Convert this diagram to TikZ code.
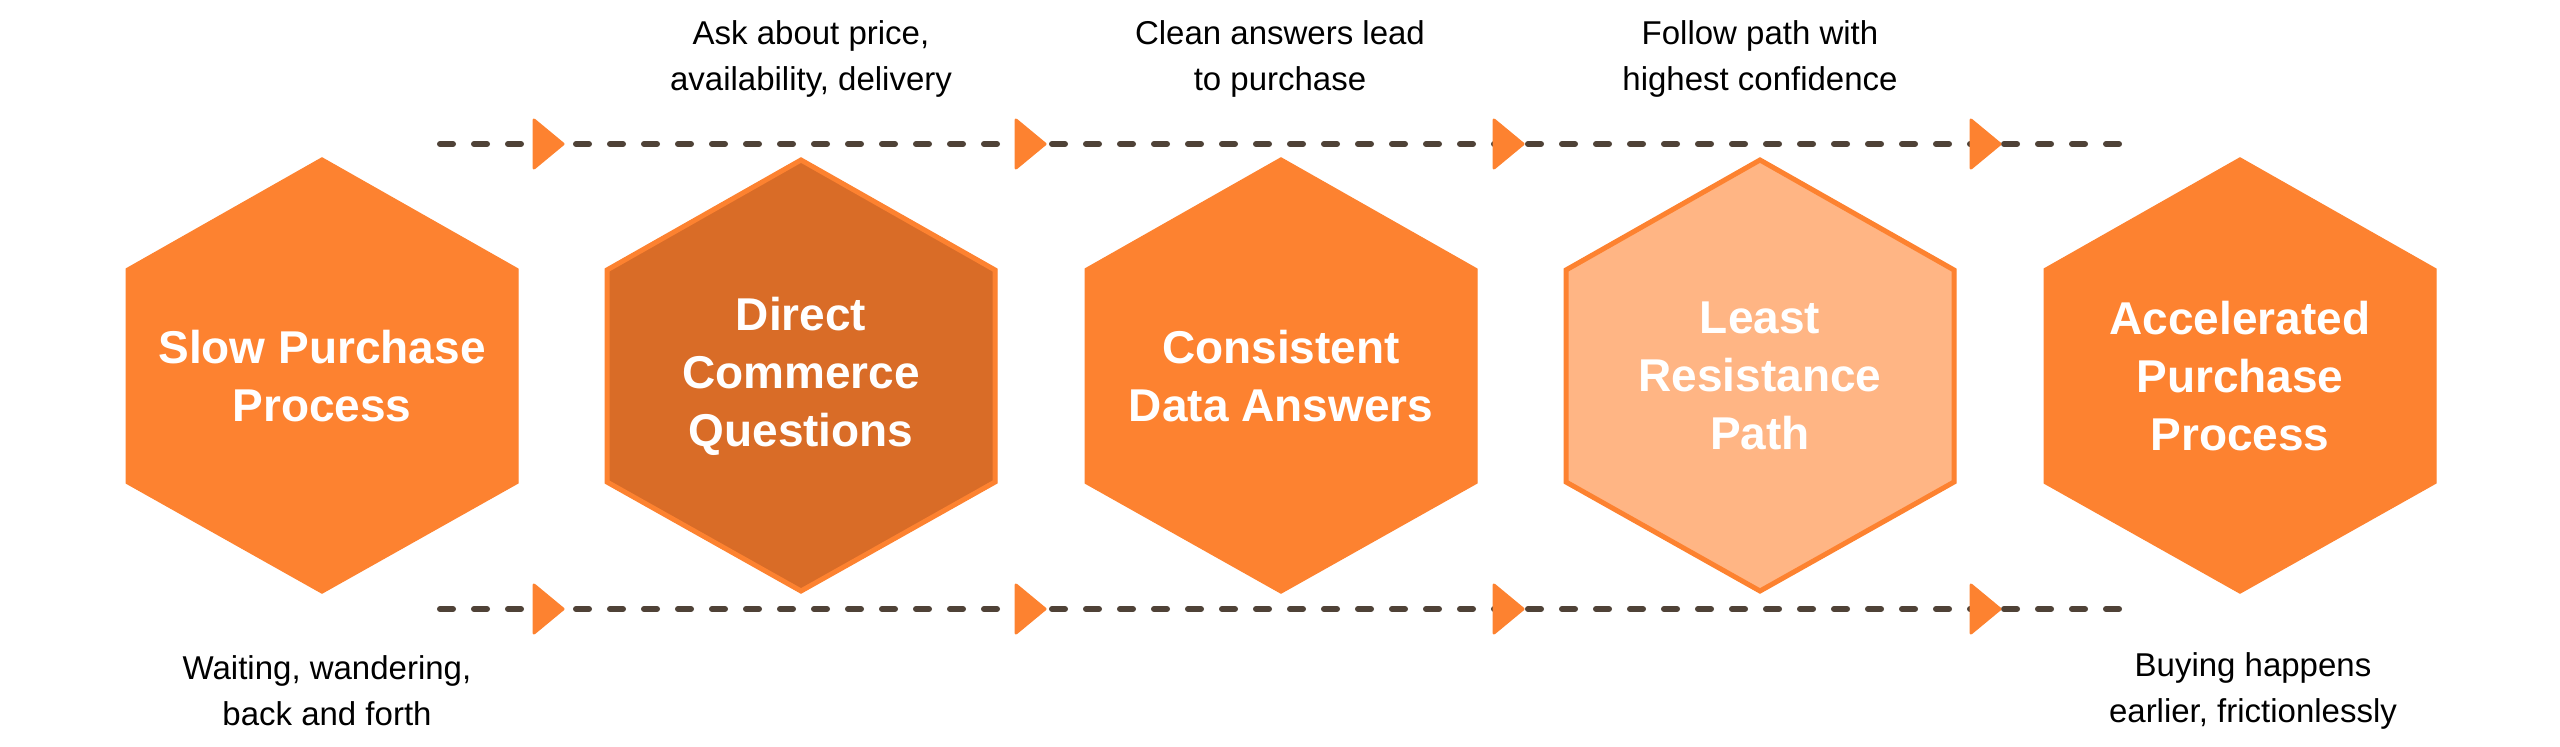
\documentclass[tikz,border=0pt]{standalone}
\usepackage{fontspec}
\setmainfont{Liberation Sans}
\begin{document}
\definecolor{org}{HTML}{FD8230}
\definecolor{dorg}{HTML}{D96C27}
\definecolor{lorg}{HTML}{FFB584}
\definecolor{dash}{HTML}{4F4237}
\begin{tikzpicture}[x=1pt,y=-1pt,
  hex/.style={draw=org,line width=5pt,line join=miter},
  htxt/.style={text=white,font=\fontsize{46}{58}\selectfont\bfseries,align=center},
  lbl/.style={font=\fontsize{33}{46}\selectfont,align=center},
  dl/.style={draw=dash,line width=6pt,line cap=round,dash pattern=on 13pt off 21pt},
  tri/.style={fill=org,draw=org,line width=3pt,line join=round}]
\useasboundingbox (0,0) rectangle (2560,747);
\foreach \i/\cx/\f in {1/322/org,2/801/dorg,3/1281/org,4/1760/lorg,5/2240/org}{
  \fill[\f] (\cx,158) -- (\cx+196,269) -- (\cx+196,483) -- (\cx,593) -- (\cx-196,483) -- (\cx-196,269) -- cycle;
  \draw[hex] (\cx,160) -- (\cx+194,270) -- (\cx+194,482) -- (\cx,591) -- (\cx-194,482) -- (\cx-194,270) -- cycle;
  \coordinate (h\i) at (\cx,376);
}
\node[htxt] (t1) at (h1) {Slow Purchase\\Process};
\node[htxt] (t2) at (h2) {Direct\\Commerce\\Questions};
\node[htxt] (t3) at (h3) {Consistent\\Data Answers};
\node[htxt] (t4) at (h4) {Least\\Resistance\\Path};
\node[htxt] (t5) at (h5) {Accelerated\\Purchase\\Process};
\foreach \y/\n in {144/a,609/b}{
  \coordinate (\n s) at (440,\y);
  \coordinate (\n e) at (2122,\y);
  \draw[dl] (\n s) -- (\n e);
  \foreach \t in {563,1045,1523,2000}
    \filldraw[tri] (\t,\y) -- (\t-29,\y-24) -- (\t-29,\y+24) -- cycle;
}
\node[lbl] (l1) at (811,59) {Ask about price,\\availability, delivery};
\node[lbl] (l2) at (1280,59) {Clean answers lead\\to purchase};
\node[lbl] (l3) at (1760,59) {Follow path with\\highest confidence};
\node[lbl] (l4) at (327,691) {Waiting, wandering,\\back and forth};
\node[lbl] (l5) at (2253,691) {Buying happens\\earlier, frictionlessly};
\end{tikzpicture}
\end{document}
